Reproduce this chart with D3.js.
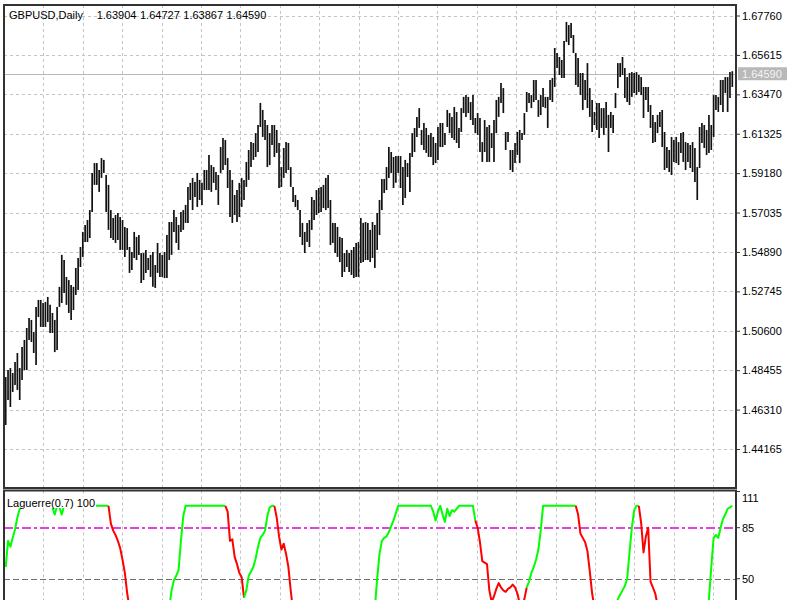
<!DOCTYPE html>
<html><head><meta charset="utf-8">
<script src="https://cdn.jsdelivr.net/npm/d3@7"></script>
<style>body{margin:0;background:#fff;} svg{display:block;font-family:"Liberation Sans",Arial,sans-serif;}</style>
</head><body><svg id="c" width="800" height="600"></svg>
<script>
const symbolName = "GBPUSD,Daily";
const lastOHLC = ["1.63904", "1.64727", "1.63867", "1.64590"];
const lastClose = 1.64590;

const highs = [
1.4808,1.4846,1.4857,1.4830,1.4890,1.4939,1.4857,1.4972,1.5010,1.5075,
1.5130,1.5119,1.5053,1.5190,1.5228,1.5228,1.5211,1.5217,1.5244,1.5201,
1.5157,1.5119,1.5190,1.5299,1.5473,1.5445,1.5353,1.5336,1.5309,1.5299,
1.5402,1.5456,1.5516,1.5598,1.5636,1.5663,1.5717,1.5919,1.5973,1.5973,
1.5935,1.6000,1.5990,1.5908,1.5854,1.5717,1.5674,1.5690,1.5701,1.5679,
1.5663,1.5625,1.5619,1.5516,1.5489,1.5598,1.5571,1.5581,1.5483,1.5483,
1.5500,1.5456,1.5473,1.5489,1.5418,1.5538,1.5483,1.5473,1.5489,1.5581,
1.5652,1.5652,1.5717,1.5679,1.5636,1.5707,1.5717,1.5745,1.5843,1.5865,
1.5892,1.5870,1.5919,1.5881,1.5865,1.5935,1.5935,1.6017,1.5962,1.5951,
1.5924,1.5908,1.6060,1.6109,1.6098,1.6000,1.5935,1.5881,1.5799,1.5826,
1.5865,1.5892,1.5881,1.5979,1.6044,1.6087,1.6082,1.6136,1.6180,1.6300,
1.6262,1.6207,1.6180,1.6136,1.6180,1.6180,1.6153,1.6082,1.5951,1.6055,
1.6087,1.6082,1.5951,1.5843,1.5799,1.5772,1.5717,1.5647,1.5598,1.5647,
1.5663,1.5788,1.5772,1.5826,1.5837,1.5843,1.5854,1.5892,1.5908,1.5772,
1.5647,1.5647,1.5625,1.5571,1.5565,1.5483,1.5500,1.5483,1.5500,1.5516,
1.5538,1.5543,1.5674,1.5647,1.5652,1.5647,1.5609,1.5652,1.5636,1.5701,
1.5772,1.5886,1.5886,1.5951,1.6060,1.6033,1.6006,1.6011,1.6011,1.6011,
1.5951,1.5990,1.5973,1.6028,1.6136,1.6164,1.6224,1.6272,1.6153,1.6191,
1.6164,1.6126,1.6136,1.6115,1.6082,1.6169,1.6191,1.6191,1.6136,1.6262,
1.6245,1.6224,1.6278,1.6251,1.6164,1.6272,1.6333,1.6343,1.6333,1.6305,
1.6343,1.6218,1.6245,1.6218,1.6087,1.6207,1.6169,1.6180,1.6136,1.6207,
1.6316,1.6333,1.6409,1.6381,1.6142,1.6142,1.6044,1.6044,1.6082,1.6142,
1.6153,1.6136,1.6245,1.6360,1.6354,1.6343,1.6425,1.6425,1.6316,1.6343,
1.6381,1.6333,1.6333,1.6425,1.6436,1.6599,1.6572,1.6550,1.6534,1.6637,
1.6741,1.6724,1.6735,1.6670,1.6572,1.6545,1.6463,1.6463,1.6425,1.6517,
1.6381,1.6316,1.6251,1.6300,1.6300,1.6272,1.6272,1.6305,1.6235,1.6251,
1.6235,1.6354,1.6517,1.6517,1.6550,1.6490,1.6441,1.6463,1.6468,1.6463,
1.6468,1.6452,1.6441,1.6387,1.6387,1.6387,1.6289,1.6235,1.6196,1.6235,
1.6251,1.6262,1.6142,1.6060,1.6044,1.6115,1.6098,1.6115,1.6087,1.6136,
1.6142,1.6087,1.6082,1.6071,1.6087,1.6055,1.5951,1.6169,1.6191,1.6180,
1.6153,1.6235,1.6180,1.6343,1.6343,1.6333,1.6425,1.6425,1.6441,1.6441,
1.6468,1.64727];

const lows = [
1.4547,1.4683,1.4645,1.4727,1.4765,1.4738,1.4683,1.4792,1.4846,1.4846,
1.5010,1.4999,1.4939,1.4874,1.5135,1.5081,1.5081,1.5081,1.5108,1.5048,
1.5048,1.4944,1.4955,1.5190,1.5211,1.5266,1.5201,1.5157,1.5119,1.5173,
1.5255,1.5282,1.5407,1.5462,1.5543,1.5543,1.5565,1.5707,1.5854,1.5854,
1.5816,1.5892,1.5919,1.5707,1.5609,1.5565,1.5554,1.5538,1.5554,1.5500,
1.5500,1.5462,1.5500,1.5375,1.5391,1.5456,1.5445,1.5473,1.5320,1.5336,
1.5375,1.5391,1.5353,1.5299,1.5293,1.5375,1.5353,1.5353,1.5347,1.5347,
1.5445,1.5473,1.5598,1.5538,1.5500,1.5598,1.5609,1.5647,1.5647,1.5772,
1.5717,1.5788,1.5734,1.5772,1.5745,1.5826,1.5826,1.5826,1.5816,1.5865,
1.5826,1.5745,1.5919,1.5935,1.5962,1.5837,1.5679,1.5647,1.5690,1.5652,
1.5679,1.5734,1.5772,1.5843,1.5881,1.5951,1.5990,1.6006,1.6033,1.6169,
1.6115,1.6098,1.5951,1.5962,1.6071,1.6006,1.6028,1.5837,1.5843,1.5892,
1.5919,1.5935,1.5843,1.5761,1.5734,1.5717,1.5571,1.5527,1.5483,1.5543,
1.5516,1.5609,1.5663,1.5690,1.5701,1.5707,1.5728,1.5717,1.5728,1.5527,
1.5538,1.5483,1.5462,1.5434,1.5353,1.5380,1.5407,1.5380,1.5364,1.5347,
1.5353,1.5353,1.5429,1.5434,1.5445,1.5445,1.5434,1.5456,1.5402,1.5500,
1.5581,1.5717,1.5810,1.5826,1.5892,1.5919,1.5837,1.5865,1.5919,1.5837,
1.5745,1.5783,1.5897,1.5816,1.6006,1.6033,1.6115,1.6164,1.6071,1.6044,
1.6028,1.6006,1.6006,1.5962,1.5973,1.5990,1.6060,1.6060,1.6071,1.6169,
1.6136,1.6109,1.6098,1.6082,1.6055,1.6142,1.6245,1.6224,1.6245,1.6207,
1.6180,1.6136,1.6126,1.6033,1.5979,1.6033,1.5979,1.5979,1.6055,1.5979,
1.6136,1.6224,1.6300,1.6245,1.6044,1.6087,1.5935,1.5924,1.5973,1.6017,
1.5973,1.6098,1.6126,1.6251,1.6300,1.6272,1.6305,1.6316,1.6224,1.6234,
1.6278,1.6272,1.6164,1.6316,1.6305,1.6387,1.6490,1.6452,1.6436,1.6436,
1.6632,1.6615,1.6654,1.6572,1.6398,1.6387,1.6343,1.6262,1.6316,1.6272,
1.6224,1.6142,1.6180,1.6153,1.6109,1.6164,1.6126,1.6164,1.6033,1.6164,
1.6136,1.6272,1.6381,1.6441,1.6452,1.6327,1.6305,1.6289,1.6333,1.6354,
1.6343,1.6360,1.6343,1.6218,1.6316,1.6251,1.6164,1.6082,1.6087,1.6136,
1.6169,1.6060,1.5935,1.5946,1.5924,1.5908,1.5979,1.5973,1.5962,1.6028,
1.5979,1.5935,1.5979,1.5946,1.5924,1.5870,1.5772,1.5946,1.6082,1.6055,
1.6017,1.6028,1.6044,1.6115,1.6262,1.6251,1.6289,1.6251,1.6354,1.6251,
1.6327,1.63867];

const priceTicks = [1.44165,1.46310,1.48455,1.50600,1.52745,1.54890,1.57035,1.59180,1.61325,1.63470,1.65615,1.67760];

const indicatorName = "Laguerre(0.7)";
const indicatorLast = "100";
const lagValues = [
58,76,72,78,84,92,98,100,100,100,
100,100,100,100,100,100,100,100,100,100,
99,94,100,99,94,100,100,100,100,100,
100,100,100,100,100,100,100,100,100,100,
100,100,100,100,100,88,83,80,76,71,
63,54,40,30,22,15,10,6,4,3,
2,4,3,6,8,12,10,16,22,26,
30,42,49,52,56,76,93,100,100,100,
100,100,100,100,100,100,100,100,100,100,
100,100,100,100,100,96,76,77,65,60,
54,51,37,42,52,55,58,64,72,78,
80,83,93,99,100,100,92,79,70,74,
67,58,42,28,18,12,6,3,2,4,
8,14,20,18,22,26,30,31,33,32,
24,16,10,6,4,2,1,2,1,2,
1,3,5,12,15,18,20,24,30,50,
67,76,78,79,82,86,90,95,100,100,
100,100,100,100,100,100,100,100,100,100,
100,100,100,96,90,96,100,94,89,98,
93,97,96,98,100,100,100,100,100,100,
100,90,85,75,62,61,60,42,34,38,
43,47,44,42,41,43,44,46,44,40,
33,32,36,44,48,54,58,63,70,83,
100,100,100,100,100,100,100,100,100,100,
100,100,100,100,100,94,81,78,75,69,
55,40,30,22,15,10,8,6,10,14,
18,30,36,39,42,45,50,68,85,97,
100,100,88,68,79,85,48,44,40,32,
25,18,12,8,5,4,3,6,4,3,
2,4,6,4,3,10,5,12,18,24,
30,36,58,78,80,78,85,91,94,98,
99,100];
// colour state of the indicator line, starting at the given bar
const lagRuns = [[0,"up"],[45,"down"],[63,"up"],[95,"down"],[103,"up"],[116,"down"],[153,"up"],[202,"down"],[224,"up"],[245,"down"],[258,"up"],[272,"down"],[295,"up"]];
const lagTicks = [111, 85, 50];
const lagLevels = [85, 50];

// ---------- layout ----------
const L = 4, R = 736, mainTop = 5, mainBot = 488, indTop = 490.5, indBot = 600;
const N = highs.length;
const svg = d3.select("#c");

const x = d3.scaleLinear().domain([0, N - 1]).range([5.7, 732.3]);
const y = d3.scaleLinear().domain([priceTicks[0], priceTicks[priceTicks.length - 1]]).range([449, 15.5]);
const yi = d3.scaleLinear().domain([50, 85]).range([578.7, 527.7]);

const defs = svg.append("defs");
defs.append("clipPath").attr("id", "cm").append("rect").attr("x", L).attr("y", mainTop).attr("width", R - L).attr("height", mainBot - mainTop);
defs.append("clipPath").attr("id", "ci").append("rect").attr("x", L).attr("y", indTop).attr("width", R - L).attr("height", indBot - indTop);

const gridColor = "#c4c4c4";
const vGrid = d3.range(L + 39.4, R - 5, 39.4);

// main pane grid
const gm = svg.append("g").attr("clip-path", "url(#cm)");
gm.selectAll("line.h").data(priceTicks).join("line")
  .attr("x1", L).attr("x2", R).attr("y1", d => Math.round(y(d)) + 0.5).attr("y2", d => Math.round(y(d)) + 0.5)
  .attr("stroke", gridColor).attr("stroke-dasharray", "3,3");
gm.selectAll("line.v").data(vGrid).join("line")
  .attr("x1", d => Math.round(d) + 0.5).attr("x2", d => Math.round(d) + 0.5).attr("y1", mainTop).attr("y2", mainBot)
  .attr("stroke", gridColor).attr("stroke-dasharray", "3,3");

// current price line
gm.append("line").attr("x1", L).attr("x2", R)
  .attr("y1", Math.round(y(lastClose)) + 0.5).attr("y2", Math.round(y(lastClose)) + 0.5)
  .attr("stroke", "#b8b8b8").attr("stroke-width", 1);

// bars
gm.selectAll("line.bar").data(highs).join("line").attr("class", "bar")
  .attr("x1", (d, i) => x(i)).attr("x2", (d, i) => x(i))
  .attr("y1", d => y(d)).attr("y2", (d, i) => y(lows[i]))
  .attr("stroke", "#111").attr("stroke-width", 1.7);

// main frame
svg.append("rect").attr("x", L).attr("y", mainTop).attr("width", R - L).attr("height", mainBot - mainTop)
  .attr("fill", "none").attr("stroke", "#333").attr("stroke-width", 2);

// title
const title = svg.append("g").attr("font-size", 11).attr("fill", "#000");
title.append("text").attr("x", 9).attr("y", 19).text(symbolName);
lastOHLC.forEach((t, k) => title.append("text").attr("x", 96.7 + k * 43.3).attr("y", 19).text(t));

// price axis
const ax = svg.append("g").attr("transform", `translate(${R},0)`)
  .call(d3.axisRight(y).tickValues(priceTicks).tickFormat(d3.format(".5f")).tickSize(4).tickPadding(2));
ax.select(".domain").remove();
ax.selectAll("line").attr("stroke", "#333");
ax.selectAll("text").attr("font-size", 11).attr("font-family", '"Liberation Sans",Arial,sans-serif').attr("fill", "#000");

// last price label
const ly = y(lastClose);
svg.append("rect").attr("x", 738).attr("y", ly - 6.5).attr("width", 49).attr("height", 13).attr("fill", "#b9b9b9");
svg.append("text").attr("x", 742).attr("y", ly).attr("dy", "0.35em").attr("font-size", 11).attr("fill", "#f4f4f4")
  .text(d3.format(".5f")(lastClose));

// ---------- indicator pane ----------
const gi = svg.append("g").attr("clip-path", "url(#ci)");
gi.selectAll("line.v").data(vGrid).join("line")
  .attr("x1", d => Math.round(d) + 0.5).attr("x2", d => Math.round(d) + 0.5).attr("y1", indTop).attr("y2", indBot)
  .attr("stroke", gridColor).attr("stroke-dasharray", "3,3");

const y50 = Math.round(yi(lagLevels[1])) + 0.5;
gi.append("line").attr("x1", L).attr("x2", R).attr("y1", y50).attr("y2", y50)
  .attr("stroke", "#707070").attr("stroke-dasharray", "6,3").attr("stroke-width", 1);
const y85 = Math.round(yi(lagLevels[0]));
gi.append("line").attr("x1", L).attr("x2", R).attr("y1", y85).attr("y2", y85)
  .attr("stroke", "#e83ee8").attr("stroke-dasharray", "9,3,3,3").attr("stroke-width", 2);

const lagLine = d3.line().x(d => x(d)).y(d => yi(lagValues[d]));
lagRuns.forEach((r, k) => {
  const s = Math.max(r[0] - 1, 0);
  const e = k < lagRuns.length - 1 ? lagRuns[k + 1][0] - 1 : N - 1;
  gi.append("path").datum(d3.range(s, e + 1)).attr("d", lagLine)
    .attr("fill", "none").attr("stroke", r[1] === "up" ? "#00ff00" : "#ff0000")
    .attr("stroke-width", 2).attr("stroke-linejoin", "round");
});

// indicator label with background
const lab = svg.append("g");
const labText = lab.append("text").attr("x", 7).attr("y", 507).attr("font-size", 11).attr("fill", "#000")
  .text(indicatorName + " " + indicatorLast);
const bb = labText.node().getBBox();
lab.insert("rect", "text").attr("x", bb.x - 1).attr("y", bb.y).attr("width", bb.width + 2).attr("height", bb.height - 1).attr("fill", "#fff");

// indicator frame
svg.append("path").attr("d", `M${L},${indBot + 2}V${indTop}H${R}V${indBot + 2}`)
  .attr("fill", "none").attr("stroke", "#333").attr("stroke-width", 2);

// indicator axis
const ia = svg.append("g").attr("font-size", 11).attr("fill", "#000");
lagTicks.forEach(v => {
  const ty = Math.max(yi(v), indTop + 1);
  ia.append("line").attr("x1", R).attr("x2", R + 4).attr("y1", ty).attr("y2", ty).attr("stroke", "#333");
  const top = yi(v) < indTop + 6;
  ia.append("text").attr("x", R + 6).attr("y", top ? ty + 10 : ty).attr("dy", top ? 0 : "0.35em").text(v);
});
</script></body></html>
